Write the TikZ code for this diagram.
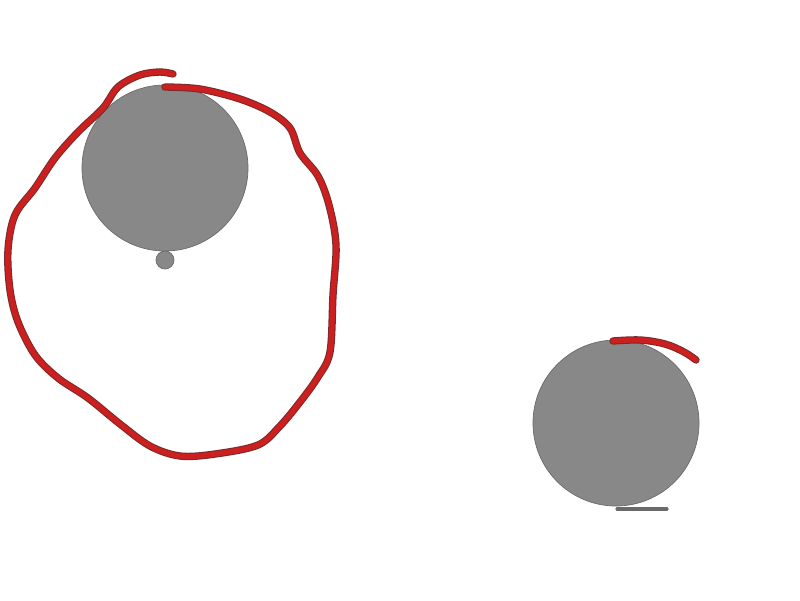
\documentclass[tikz,border=0pt]{standalone}
\usepackage{xcolor}
\usepackage{tikz}
\definecolor{DiscGray}{HTML}{888888}
\definecolor{DiscEdge}{HTML}{6A6A6A}
\definecolor{InkRed}{HTML}{CC1F1F}
\definecolor{InkEdge}{HTML}{7A2A2A}

\tikzset{
	disc/.style={fill=DiscGray, draw=DiscEdge, line width=0.4pt},
	inkedge/.style={draw=InkEdge, line width=4.2pt, line cap=round, line join=round},
	ink/.style={draw=InkRed, line width=3.0pt, line cap=round, line join=round},
}

\begin{document}
\begin{tikzpicture}[x=0.02cm, y=-0.02cm]
				\useasboundingbox (0,0) rectangle (800,600);

				% left disc and the small dot under it
				\draw[disc] (165,168) circle (83);
				\draw[disc] (165,260) circle (9);

				% loop round the left disc
				\foreach \sty in {inkedge, ink} {
					\draw[\sty] plot[smooth, tension=0.55] coordinates {
						(165,87) (200,89) (240,99) (270,112) (290,128) (300,153) (318,176)
						(329,205) (336,245) (333,295) (330,352) (318,377) (300,402)
						(280,426) (258,445) (215,454) (180,456) (150,446) (120,424)
						(88,398) (58,378) (35,355) (18,322) (10,290) (8,250) (15,215)
						(35,188) (55,158) (78,132) (103,108) (118,87) (140,75) (160,72) (173,74)
					};
				}

				% right disc
				\draw[disc] (616,423) circle (83);
				\foreach \sty in {inkedge, ink} {
					\draw[\sty] plot[smooth, tension=0.6] coordinates {
						(613,341) (640,340) (665,344) (684,352) (696,360)
					};
				}
				\draw[DiscEdge, line width=1.8pt, line cap=round] (617,509) -- (667,509);
			\end{tikzpicture}
\end{document}
